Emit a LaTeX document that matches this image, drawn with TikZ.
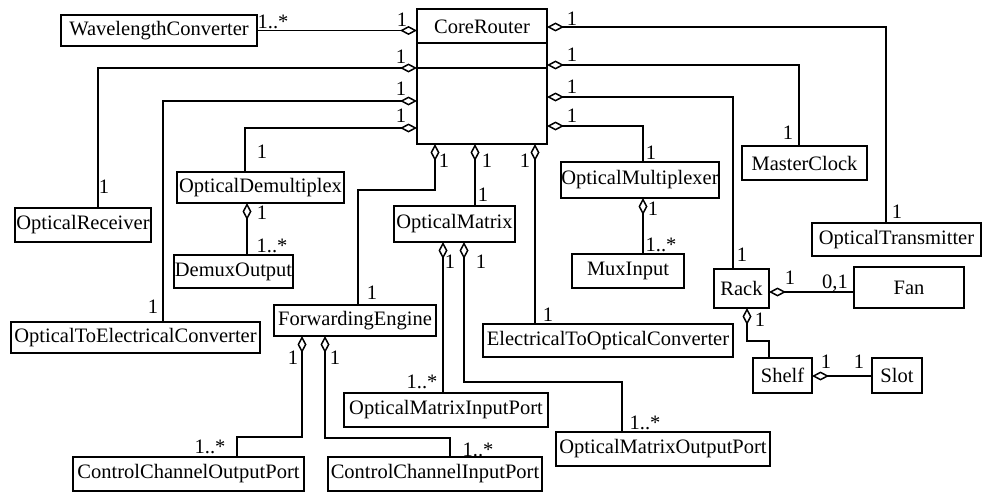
\documentclass[tikz,border=0pt]{standalone}
\usepackage{fontspec}
\setmainfont{Liberation Serif}
\usetikzlibrary{arrows.meta}

% class box given by its corner coordinates: name, x1, y1, x2, y2, text
\newcommand\classbox[6]{%
  \node[cls, minimum width={#4-#2}, minimum height={#5-#3}]
    (#1) at ({(#2+#4)/2},{(#3+#5)/2}) {#6};}

\begin{document}
\begin{tikzpicture}[x=1pt, y=-1pt,
  every node/.style={font=\fontsize{20.5}{22}\selectfont},
  cls/.style={draw, line width=1.5pt, rectangle, inner sep=0pt, outer sep=0pt},
  mult/.style={inner sep=0pt, outer sep=0pt},
  agg/.style={draw, line width=1.5pt,
    {Diamond[open, length=17pt, width=9pt, line width=1.5pt]}-},
  assoc/.style={draw, line width=1.5pt}]

\useasboundingbox (0,0) rectangle (982,495);

% ---------- classes ----------
\node[cls, minimum width=130, minimum height=135] (cr) at (482,76.5) {};
\node[mult] (crname) at (482,27) {CoreRouter};
\draw[line width=1.5pt] (cr.west |- 0,43) -- (cr.east |- 0,43);
\draw[line width=1.5pt] (cr.west |- 0,68) -- (cr.east |- 0,68);

\classbox{wc}{61}{15}{257}{46}{WavelengthConverter}
\classbox{orx}{15}{208}{151}{242}{OpticalReceiver}
\classbox{od}{177}{172}{344}{203}{OpticalDemultiplex}
\classbox{dmo}{174}{255}{293}{288}{DemuxOutput}
\classbox{ote}{11}{322}{260}{353}{OpticalToElectricalConverter}
\classbox{fe}{274}{305}{436}{336}{ForwardingEngine}
\classbox{ccop}{73}{457}{304}{491}{ControlChannelOutputPort}
\classbox{ccip}{328}{457}{542}{491}{ControlChannelInputPort}
\classbox{omx}{394}{206}{515}{242}{OpticalMatrix}
\classbox{omip}{344}{393}{548}{427}{OpticalMatrixInputPort}
\classbox{omop}{556}{432}{770}{466}{OpticalMatrixOutputPort}
\classbox{eoc}{483}{324}{733}{357}{ElectricalToOpticalConverter}
\classbox{om}{561}{162}{719}{198}{OpticalMultiplexer}
\classbox{mui}{572}{254}{684}{288}{MuxInput}
\classbox{mc}{742}{146}{867}{180}{MasterClock}
\classbox{ot}{812}{223}{981}{256}{OpticalTransmitter}
\classbox{rack}{714}{269}{769}{308}{Rack}
\classbox{fan}{854}{267}{964}{308}{Fan}
\classbox{shelf}{753}{358}{812}{393}{Shelf}
\classbox{slot}{872}{358}{922}{393}{Slot}

% ---------- attachment points ----------
\coordinate (crL2) at (417,68);
\coordinate (crL3) at (417,101);
\coordinate (crL4) at (417,128);
\coordinate (crR1) at (547,27);
\coordinate (crR2) at (547,65);
\coordinate (crR3) at (547,97);
\coordinate (crR4) at (547,126);
\coordinate (crB1) at (435,144);
\coordinate (crB2) at (475,144);
\coordinate (crB3) at (535,144);
\coordinate (orxT) at (98,208);
\coordinate (oteT) at (163,322);
\coordinate (odT) at (245,172);
\coordinate (otT) at (886,223);
\coordinate (mcT) at (799,146);
\coordinate (rackT) at (733,269);
\coordinate (omT) at (643,162);
\coordinate (feT) at (358,305);
\coordinate (omxT) at (475,206);
\coordinate (eocT) at (535,324);
\coordinate (odB) at (247,203);
\coordinate (dmoT) at (247,255);
\coordinate (omB) at (643,198);
\coordinate (muiT) at (643,254);
\coordinate (omxB1) at (443,242);
\coordinate (omxB2) at (464,242);
\coordinate (omipT) at (443,393);
\coordinate (omopT) at (622,432);
\coordinate (feB1) at (302,336);
\coordinate (feB2) at (325,336);
\coordinate (ccopT) at (237,457);
\coordinate (ccipT) at (450,457);
\coordinate (rackB) at (747,308);
\coordinate (shelfT) at (769,358);

% ---------- aggregations ----------
\draw[agg] (cr.west |- wc.east) -- (wc.east);
\draw[agg] (crL2) -| (orxT);
\draw[agg] (crL3) -| (oteT);
\draw[agg] (crL4) -| (odT);
\draw[agg] (crR1) -| (otT);
\draw[agg] (crR2) -| (mcT);
\draw[agg] (crR3) -| (rackT);
\draw[agg] (crR4) -| (omT);
\draw[agg] (crB1) -- ++(0,46) -| (feT);
\draw[agg] (crB2) -- (omxT);
\draw[agg] (crB3) -- (eocT);
\draw[agg] (odB) -- (dmoT);
\draw[agg] (omB) -- (muiT);
\draw[agg] (omxB1) -- (omipT);
\draw[agg] (omxB2) -- ++(0,140) -| (omopT);
\draw[agg] (feB1) -- ++(0,101) -| (ccopT);
\draw[agg] (feB2) -- ++(0,102) -| (ccipT);
\draw[agg] (rack.east |- 0,292) -- (fan.west |- 0,292);
\draw[agg] (rackB) -- ++(0,33) -| (shelfT);
\draw[agg] (shelf.east |- 0,376) -- (slot.west |- 0,376);

% ---------- multiplicities ----------
\node[mult] (m1) at (273,22) {1..*};
\node[mult] (m2) at (402,20) {1};
\node[mult] (m3) at (401,57) {1};
\node[mult] (m4) at (401,89) {1};
\node[mult] (m5) at (401,116) {1};
\node[mult] (m6) at (572,19) {1};
\node[mult] (m7) at (572,55) {1};
\node[mult] (m8) at (572,87) {1};
\node[mult] (m9) at (572,116) {1};
\node[mult] (m10) at (444,161) {1};
\node[mult] (m11) at (487,161) {1};
\node[mult] (m12) at (525,161) {1};
\node[mult] (m13) at (104,187) {1};
\node[mult] (m14) at (262,152) {1};
\node[mult] (m15) at (153,307) {1};
\node[mult] (m16) at (788,133) {1};
\node[mult] (m17) at (897,212) {1};
\node[mult] (m18) at (742,255) {1};
\node[mult] (m19) at (651,153) {1};
\node[mult] (m20) at (262,213) {1};
\node[mult] (m21) at (272,246) {1..*};
\node[mult] (m22) at (483,195) {1};
\node[mult] (m23) at (372,293) {1};
\node[mult] (m24) at (450,262) {1};
\node[mult] (m25) at (481,262) {1};
\node[mult] (m26) at (548,315) {1};
\node[mult] (m27) at (653,209) {1};
\node[mult] (m28) at (661,245) {1..*};
\node[mult] (m29) at (790,278) {1};
\node[mult] (m30) at (835,283) {0,1};
\node[mult] (m31) at (760,320) {1};
\node[mult] (m32) at (293,358) {1};
\node[mult] (m33) at (335,358) {1};
\node[mult] (m34) at (210,447) {1..*};
\node[mult] (m35) at (478,450) {1..*};
\node[mult] (m36) at (422,382) {1..*};
\node[mult] (m37) at (645,423) {1..*};
\node[mult] (m38) at (826,362) {1};
\node[mult] (m39) at (859,362) {1};
\end{tikzpicture}
\end{document}
